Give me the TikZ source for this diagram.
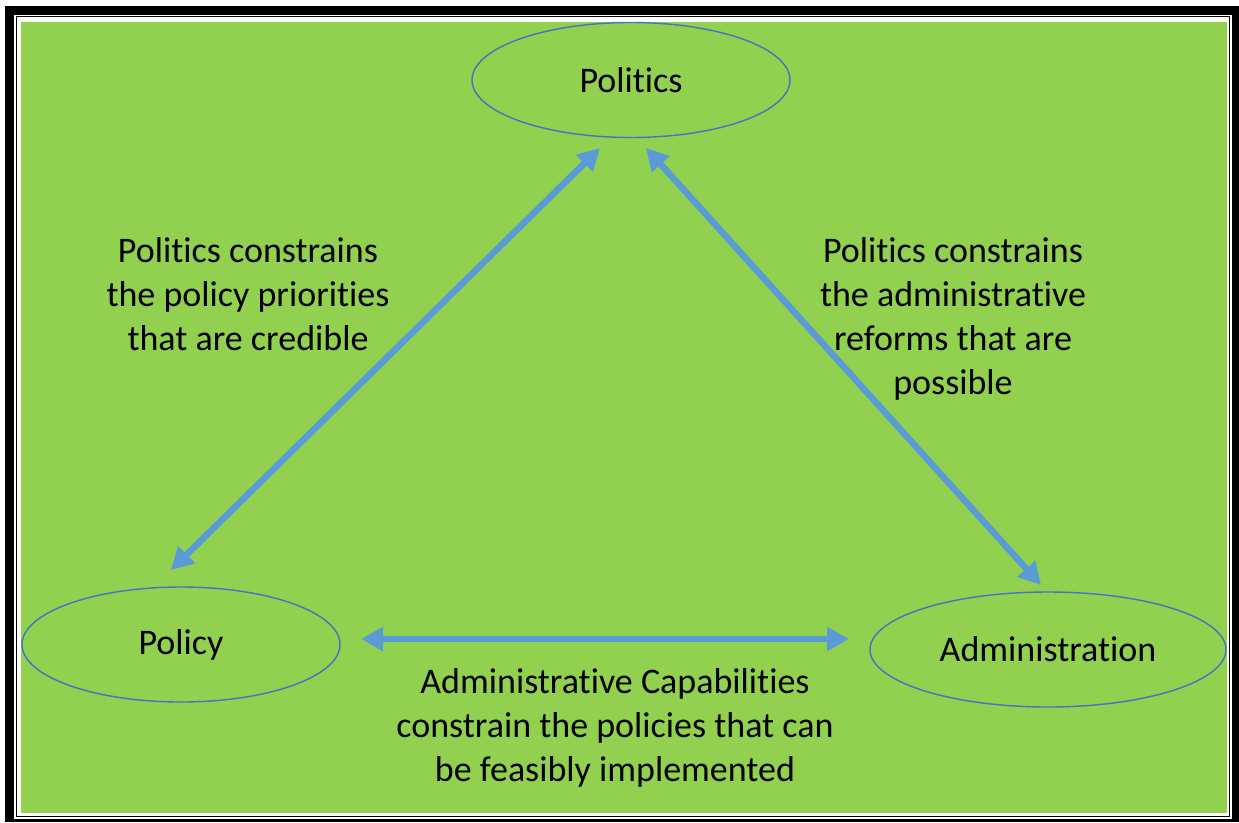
\documentclass[tikz,border=0pt]{standalone}
\usepackage{fontspec}
\setmainfont{Carlito}[Ligatures={NoCommon,NoRare,NoContextual}]
\usetikzlibrary{arrows.meta,shapes.geometric,calc}
\definecolor{bggreen}{HTML}{92D050}
\definecolor{ellline}{HTML}{4472C4}
\definecolor{arrblue}{HTML}{5B9BD5}
\tikzset{
  ell/.style={draw=ellline, line width=1.4pt, ellipse, inner sep=0pt, font=\fontsize{36}{44}\selectfont, text=black},
  lbl/.style={align=center, inner sep=0pt, anchor=base, font=\fontsize{36}{44}\selectfont, text=black},
  conn/.style={draw=arrblue, line width=6.5pt, {Triangle[length=22pt,width=23pt]}-{Triangle[length=22pt,width=23pt]}}
}
\begin{document}
\begin{tikzpicture}[x=1pt,y=-1pt]
\useasboundingbox (0,0) rectangle (1239,822);
% frame
\fill[black] (5,6) rectangle (1239,822);
\fill[white] (14,15) rectangle (1232,819);
\draw[black, line width=1.3pt] (16.3,16.8) rectangle (1229.6,816.2);
\fill[bggreen] (21,22) rectangle (1227,813);
% nodes
\node[ell, minimum width=318pt, minimum height=115pt] (pol) at (631,80) {Politics};
\node[ell, minimum width=318pt, minimum height=115pt] (pcy) at (181,644.5) {Policy};
\node[ell, minimum width=356pt, minimum height=115pt] (adm) at (1048,649.5) {Administration};
% arrow ends
\coordinate (t1) at ($(pol.center)+(-31,68)$);
\coordinate (t2) at ($(pol.center)+(15,68)$);
\coordinate (b1) at ($(pcy.center)+(-10,-74.5)$);
\coordinate (b2) at ($(adm.center)+(-7,-64.5)$);
\coordinate (h1) at ($(pcy.center)+(180,-5.5)$);
\coordinate (h2) at ($(adm.center)+(-199,-10.5)$);
\draw[conn] (b1) -- (t1);
\draw[conn] (t2) -- (b2);
\draw[conn] (h1) -- (h2);
% labels (base anchor = last line's baseline)
\node[lbl] (l1) at (248,350) {Politics constrains\\the policy priorities\\that are credible};
\node[lbl] (l2) at (953,394) {Politics constrains\\the administrative\\reforms that are\\possible};
\node[lbl] (l3) at (615,781) {Administrative Capabilities\\constrain the policies that can\\be feasibly implemented};
\end{tikzpicture}
\end{document}
